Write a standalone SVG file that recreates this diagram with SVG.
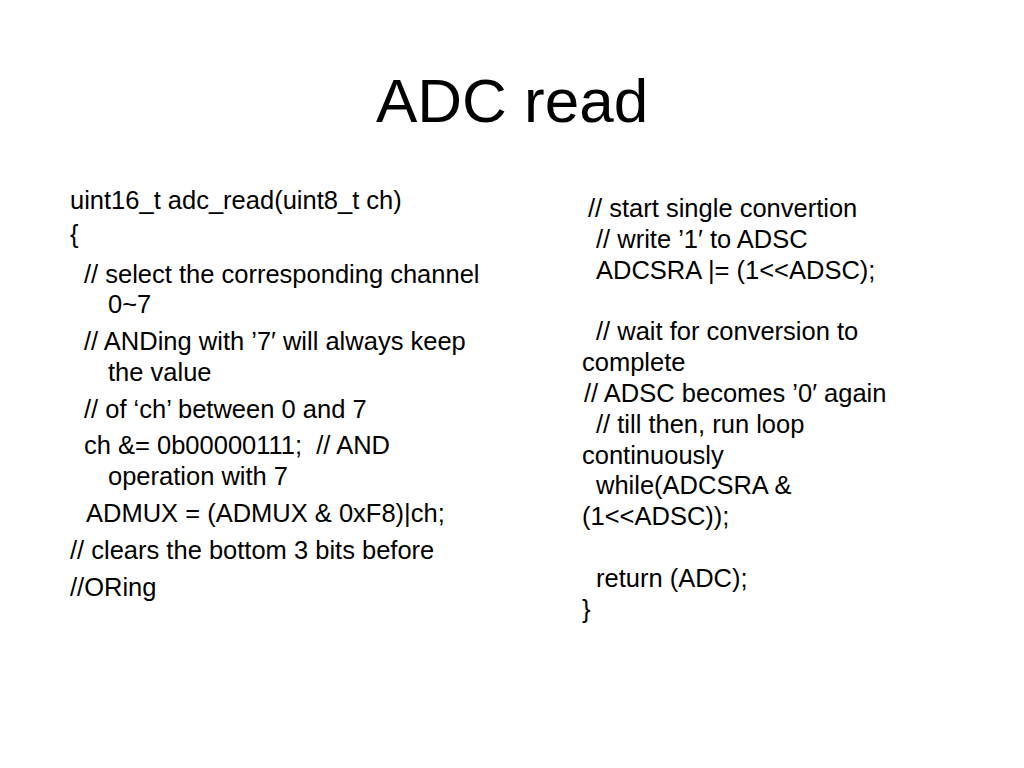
<svg xmlns="http://www.w3.org/2000/svg" width="1024" height="768" viewBox="0 0 1024 768">
<style>
text{font-family:"Liberation Sans",Arial,sans-serif;fill:#000}
.b{font-size:25.5px}
.t{font-size:62px}
</style>
<rect width="1024" height="768" fill="#fff"/>
<g id="title"><text class="t" x="512" y="122" text-anchor="middle">ADC read</text></g>
<g id="left">
<text class="b" x="70" y="209">uint16_t adc_read(uint8_t ch)</text>
<text class="b" x="70" y="243">{</text>
<text class="b" x="84" y="283">// select the corresponding channel</text>
<text class="b" x="108" y="313">0~7</text>
<text class="b" x="84" y="350">// ANDing with ’7′ will always keep</text>
<text class="b" x="108" y="381">the value</text>
<text class="b" x="84" y="418">// of ‘ch’ between 0 and 7</text>
<text class="b" x="84" y="454" xml:space="preserve">ch &amp;= 0b00000111;  // AND</text>
<text class="b" x="108" y="485">operation with 7</text>
<text class="b" x="86" y="522">ADMUX = (ADMUX &amp; 0xF8)|ch;</text>
<text class="b" x="70" y="559">// clears the bottom 3 bits before</text>
<text class="b" x="70" y="596">//ORing</text>
</g>
<g id="right">
<text class="b" x="588" y="217">// start single convertion</text>
<text class="b" x="596" y="248">// write ’1′ to ADSC</text>
<text class="b" x="596" y="279">ADCSRA |= (1&lt;&lt;ADSC);</text>
<text class="b" x="596" y="340">// wait for conversion to</text>
<text class="b" x="582" y="371">complete</text>
<text class="b" x="584" y="402">// ADSC becomes ’0′ again</text>
<text class="b" x="596" y="433">// till then, run loop</text>
<text class="b" x="582" y="464">continuously</text>
<text class="b" x="596" y="494">while(ADCSRA &amp;</text>
<text class="b" x="582" y="525">(1&lt;&lt;ADSC));</text>
<text class="b" x="596" y="587">return (ADC);</text>
<text class="b" x="582" y="618">}</text>
</g>
</svg>
